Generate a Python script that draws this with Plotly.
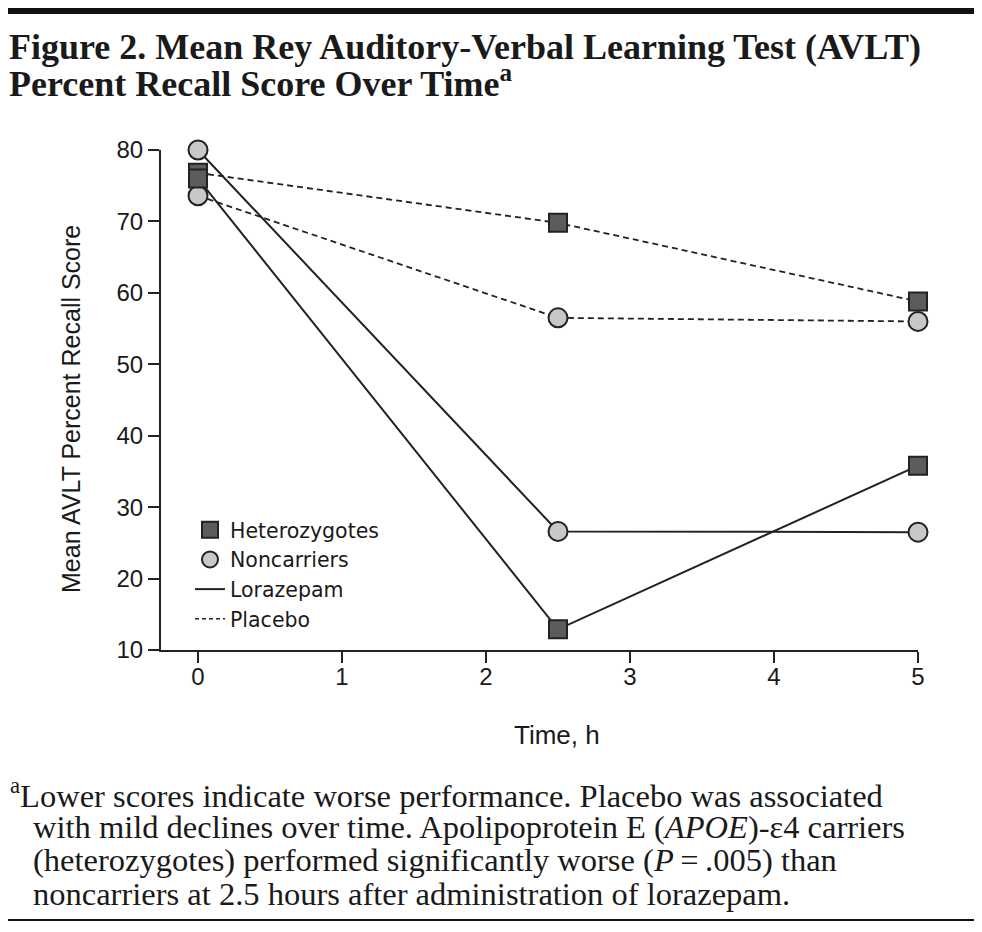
import plotly.graph_objects as go

# ---- data ----
time_h = [0, 2.5, 5]
lorazepam_het = [76.0, 12.9, 35.8]
lorazepam_non = [80.0, 26.6, 26.5]
placebo_het = [76.8, 69.8, 58.8]
placebo_non = [73.6, 56.5, 56.0]

x_ticks = [0, 1, 2, 3, 4, 5]
y_ticks = [10, 20, 30, 40, 50, 60, 70, 80]

title_lines = ["Figure 2. Mean Rey Auditory-Verbal Learning Test (AVLT)",
               "Percent Recall Score Over Time<sup>a</sup>"]
foot_lines = ["<sup>a</sup>Lower scores indicate worse performance. Placebo was associated",
              "with mild declines over time. Apolipoprotein E (<i>APOE</i>)-ε4 carriers",
              "(heterozygotes) performed significantly worse (<i>P</i>\u2009=\u2009.005) than",
              "noncarriers at 2.5 hours after administration of lorazepam."]

# ---- layout geometry (page body adds an 8 px offset) ----
OFF = 8
W, H = 982, 932
L, T = 161 - OFF, 150 - OFF
R, B = W - (918 - OFF), H - (650 - OFF)
PW, PH = W - L - R, H - T - B

def px(xp):
    return (xp - OFF - L) / PW

def py(yp):
    return 1 - (yp - OFF - T) / PH

SANS = "Liberation Sans, Arial, sans-serif"
LEG = "DejaVu Sans, sans-serif"
SERIF = "Liberation Serif, Times New Roman, serif"
INK = "#222222"
TXT = "#1a1a1a"

sq = dict(symbol="square", size=18, color="#5c5c5c", line=dict(color=INK, width=2))
ci = dict(symbol="circle", size=19, color="#c8c8c8", line=dict(color=INK, width=2))
dash = "6px,4px"

fig = go.Figure()
fig.add_trace(go.Scatter(x=time_h, y=placebo_non, mode="lines+markers", marker=ci,
                         line=dict(color=INK, width=1.8, dash=dash), showlegend=False, cliponaxis=False))
fig.add_trace(go.Scatter(x=time_h, y=placebo_het, mode="lines+markers", marker=sq,
                         line=dict(color=INK, width=1.8, dash=dash), showlegend=False, cliponaxis=False))
fig.add_trace(go.Scatter(x=time_h, y=lorazepam_non, mode="lines+markers", marker=ci,
                         line=dict(color=INK, width=2), showlegend=False, cliponaxis=False))
fig.add_trace(go.Scatter(x=time_h, y=lorazepam_het, mode="lines+markers", marker=sq,
                         line=dict(color=INK, width=2), showlegend=False, cliponaxis=False))

# legend entries
fig.add_trace(go.Scatter(x=[None], y=[None], mode="markers", name="Heterozygotes",
                         marker=dict(symbol="square", size=16, color="#5c5c5c", line=dict(color=INK, width=2))))
fig.add_trace(go.Scatter(x=[None], y=[None], mode="markers", name="Noncarriers",
                         marker=dict(symbol="circle", size=17, color="#c8c8c8", line=dict(color=INK, width=2))))
fig.add_trace(go.Scatter(x=[None], y=[None], mode="lines", name="Lorazepam",
                         line=dict(color=INK, width=2)))
fig.add_trace(go.Scatter(x=[None], y=[None], mode="lines", name="Placebo",
                         line=dict(color=INK, width=1.5, dash="4px,3px")))

annotations = []
# title
for i, t in enumerate(title_lines):
    annotations.append(dict(text=t, xref="paper", yref="paper", x=px(7), y=py(47 + i * 35),
                            xanchor="left", yanchor="middle", showarrow=False,
                            font=dict(family=SERIF, size=36, color=TXT, weight="bold")))
# footnote
for i, t in enumerate(foot_lines):
    annotations.append(dict(text=t, xref="paper", yref="paper", x=px(8 if i == 0 else 31),
                            y=py(793 + i * 33.5), xanchor="left", yanchor="middle", showarrow=False,
                            font=dict(family=SERIF, size=32.5, color=TXT)))
# axis titles
annotations.append(dict(text="Mean AVLT Percent Recall Score", xref="paper", yref="paper",
                        x=px(71), y=py(409), textangle=-90, showarrow=False,
                        xanchor="center", yanchor="middle", font=dict(family=SANS, size=25, color=TXT)))
annotations.append(dict(text="Time, h", xref="paper", yref="paper",
                        x=px(557), y=py(735), showarrow=False,
                        xanchor="center", yanchor="middle", font=dict(family=SANS, size=26, color=TXT)))

shapes = [
    dict(type="rect", xref="paper", yref="paper", x0=px(5), x1=px(976), y0=py(14), y1=py(5),
         fillcolor="#111111", line=dict(width=0)),
    dict(type="line", xref="paper", yref="paper", x0=px(5), x1=px(976), y0=py(920), y1=py(920),
         line=dict(color="#111111", width=2)),
]

fig.update_layout(
    width=W, height=H,
    margin=dict(l=L, r=R, t=T, b=B, autoexpand=False),
    paper_bgcolor="white", plot_bgcolor="white",
    showlegend=True,
    legend=dict(x=px(190), y=py(510), xanchor="left", yanchor="top",
                bgcolor="rgba(0,0,0,0)", font=dict(family=LEG, size=20.5, color=TXT),
                itemwidth=30, tracegroupgap=0),
    annotations=annotations,
    shapes=shapes,
    xaxis=dict(range=[-0.257, 5], tickvals=x_ticks, showgrid=False, zeroline=False,
               showline=True, linecolor=INK, linewidth=2, ticks="outside", ticklen=11,
               tickwidth=1.5, tickcolor=INK, ticklabelstandoff=-7,
               tickfont=dict(family=SANS, size=24, color=TXT)),
    yaxis=dict(range=[10, 80], tickvals=y_ticks, showgrid=False, zeroline=False,
               showline=True, linecolor=INK, linewidth=2, ticks="outside", ticklen=11,
               tickwidth=1.5, tickcolor=INK, tickfont=dict(family=SANS, size=24, color=TXT)),
)

fig.write_html("out.html")
